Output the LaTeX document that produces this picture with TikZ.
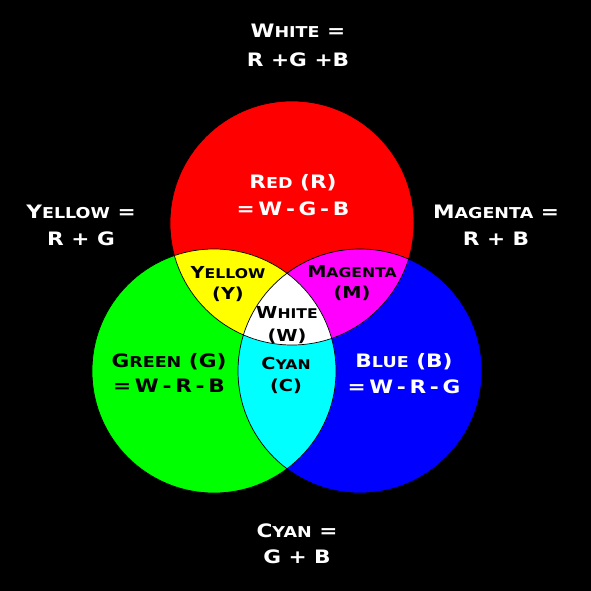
\documentclass[tikz,border=0pt]{standalone}
\usepackage{fontspec}
\setmainfont{DejaVu Sans}[BoldFont={DejaVu Sans Bold},BoldFeatures={FakeStretch=1.17}]
\makeatletter
\newcommand\lc[1]{{\@tempdima=\f@size pt\@tempdima=0.81\@tempdima\fontsize{\strip@pt\@tempdima}{\f@baselineskip}\selectfont #1}}
\makeatother
\newcommand\ts{\hspace{0.2em}}
\definecolor{pR}{RGB}{255,0,0}
\definecolor{pG}{RGB}{0,255,0}
\definecolor{pB}{RGB}{0,0,255}
\definecolor{pY}{RGB}{255,255,0}
\definecolor{pM}{RGB}{255,0,255}
\definecolor{pC}{RGB}{0,255,255}
\tikzset{
  big/.style={anchor=base,inner sep=0pt,font=\fontsize{18.5}{20}\selectfont\bfseries},
  small/.style={anchor=base,inner sep=0pt,font=\fontsize{16.5}{18}\selectfont\bfseries},
  ring/.style={draw=black,line width=0.7pt}
}
\begin{document}
\begin{tikzpicture}[x=1pt,y=-1pt]
\fill[black] (0,0) rectangle (591,591);
\useasboundingbox (0,0) rectangle (591,591);
\coordinate (cR) at (292,223);
\coordinate (cG) at (214,371);
\coordinate (cB) at (360,371);
% base circles
\fill[pR] (cR) circle[radius=122pt];
\fill[pG] (cG) circle[radius=122pt];
\fill[pB] (cB) circle[radius=122pt];
% pairwise overlaps
\begin{scope}
  \clip (cR) circle[radius=122pt];
  \fill[pY] (cG) circle[radius=122pt];
  \fill[pM] (cB) circle[radius=122pt];
\end{scope}
\begin{scope}
  \clip (cG) circle[radius=122pt];
  \fill[pC] (cB) circle[radius=122pt];
\end{scope}
\begin{scope}
  \clip (cR) circle[radius=122pt];
  \clip (cG) circle[radius=122pt];
  \fill[white] (cB) circle[radius=122pt];
\end{scope}
% outlines
\draw[ring] (cR) circle[radius=122pt];
\draw[ring] (cG) circle[radius=122pt];
\draw[ring] (cB) circle[radius=122pt];
% outer labels
\node[big,white] (w1) at (298,38) {W\lc{HITE} =};
\node[big,white] (w2) at (298,67) {R +G +B};
\node[big,white] (y1) at (81,218) {Y\lc{ELLOW} =};
\node[big,white] (y2) at (81,245) {R + G};
\node[big,white] (m1) at (496,218) {M\lc{AGENTA} =};
\node[big,white] (m2) at (496,245) {R + B};
\node[big,white] (c1) at (297,537) {C\lc{YAN} =};
\node[big,white] (c2) at (297,563) {G + B};
% circle labels
\node[big,white] (r1) at (293,188) {R\lc{ED} (R)};
\node[big,white] (r2) at (293,215) {=\ts W\ts-\ts G\ts-\ts B};
\node[big,black] (g1) at (169,367) {G\lc{REEN} (G)};
\node[big,black] (g2) at (169,392) {=\ts W\ts-\ts R\ts-\ts B};
\node[big,white] (b1) at (404,367) {B\lc{LUE} (B)};
\node[big,white] (b2) at (404,393) {=\ts W\ts-\ts R\ts-\ts G};
% overlap labels
\node[small,black] (yy1) at (228,278) {Y\lc{ELLOW}};
\node[small,black] (yy2) at (228,299) {(Y)};
\node[small,black] (mm1) at (352,277) {M\lc{AGENTA}};
\node[small,black] (mm2) at (352,298) {(M)};
\node[small,black] (ww1) at (287,318) {W\lc{HITE}};
\node[small,black] (ww2) at (287,341) {(W)};
\node[small,black] (cc1) at (286,369) {C\lc{YAN}};
\node[small,black] (cc2) at (286,391) {(C)};
\end{tikzpicture}
\end{document}
